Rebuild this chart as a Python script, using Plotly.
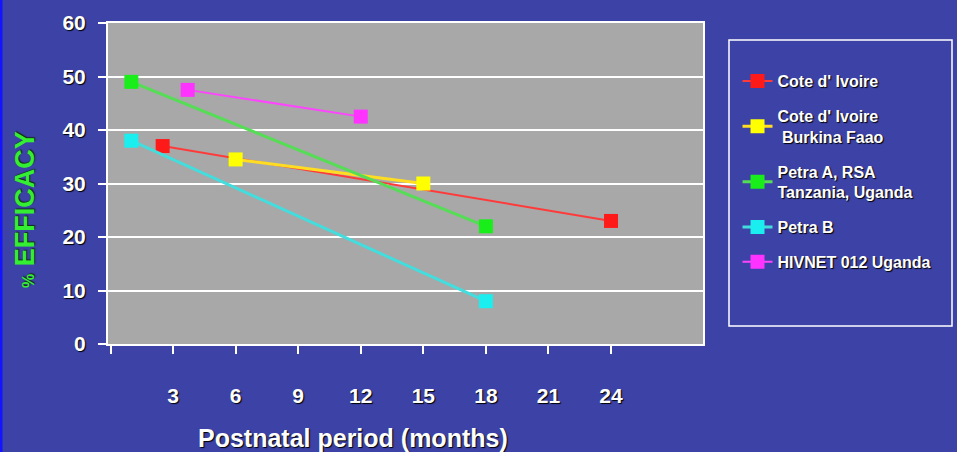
import plotly.graph_objects as go

series_names = ["Cote d' Ivoire", "Cote d' Ivoire<br> Burkina Faao", "Petra A, RSA<br>Tanzania, Uganda", "Petra B", "HIVNET 012 Uganda"]
series_x = [[2.5, 24], [6, 15], [1, 18], [1, 18], [3.7, 12]]
series_y = [[37, 23], [34.5, 30], [49, 22], [38, 8], [47.5, 42.5]]
marker_colors = ["#ff1a1a", "#ffff00", "#1aee1a", "#1aeeee", "#ff33ff"]
line_colors = ["#ff3a3a", "#ffdd22", "#55dd55", "#44dddd", "#ff44ff"]
line_widths = [2, 3, 3, 3, 2]

x_tickvals = [0, 3, 6, 9, 12, 15, 18, 21, 24]
x_ticktext = ["", "3", "6", "9", "12", "15", "18", "21", "24"]
y_tickvals = [0, 10, 20, 30, 40, 50, 60]

BG = "#3c42a6"
PLOT_BG = "#a8a8a8"
SHADOW = "1px 1px 1px #000000"

fig = go.Figure()
for i, name in enumerate(series_names):
    fig.add_trace(go.Scatter(
        x=series_x[i], y=series_y[i], name=name, mode="lines+markers",
        legendgroup=f"g{i}",
        line=dict(color=line_colors[i], width=line_widths[i]),
        marker=dict(symbol="square", size=14, color=marker_colors[i],
                    line=dict(width=0)),
    ))

fig.update_layout(
    width=957, height=452,
    paper_bgcolor=BG, plot_bgcolor=PLOT_BG,
    margin=dict(l=108, r=254, t=23, b=108),
    font=dict(family="Liberation Sans, Arial, sans-serif", color="white"),
    showlegend=True,
    legend=dict(
        x=1.058, y=0.872, xanchor="left", yanchor="top",
        bgcolor="rgba(0,0,0,0)", borderwidth=0,
        font=dict(size=16, color="white", weight="bold", shadow=SHADOW),
        tracegroupgap=11, itemwidth=30,
    ),
    xaxis=dict(
        range=[-0.12, 28.41], tickvals=x_tickvals, ticktext=x_ticktext,
        showgrid=False, zeroline=False,
        showline=True, linecolor="white", linewidth=2, mirror=True,
        ticks="outside", ticklen=8, tickcolor="white", tickwidth=2,
        ticklabelstandoff=24,
        tickfont=dict(size=21, color="white", weight="bold", shadow=SHADOW),
    ),
    yaxis=dict(
        range=[0, 60], tickvals=y_tickvals,
        showgrid=True, gridcolor="white", gridwidth=2, zeroline=False,
        showline=True, linecolor="white", linewidth=2, mirror=True,
        ticks="outside", ticklen=8, tickcolor="white", tickwidth=2,
        ticklabelstandoff=8,
        tickfont=dict(size=21, color="white", weight="bold", shadow=SHADOW),
    ),
    annotations=[
        dict(text="Postnatal period (months)", xref="paper", yref="paper",
             x=(353 - 108) / 595, y=(344 - 438) / 321, xanchor="center", yanchor="middle",
             showarrow=False,
             font=dict(size=25, color="white", weight="bold", shadow=SHADOW)),
        dict(text="<span style='font-size:16px'>%</span> EFFICACY", xref="paper", yref="paper",
             x=(25 - 108) / 595, y=(344 - 210) / 321, xanchor="center", yanchor="middle",
             textangle=-90, showarrow=False,
             font=dict(size=27, color="#33ee33", weight="bold", shadow="1px 1px 1px #103010")),
    ],
    shapes=[
        dict(type="rect", xref="paper", yref="paper",
             x0=(729 - 108) / 595, x1=(952 - 108) / 595,
             y0=(344 - 326) / 321, y1=(344 - 40) / 321,
             line=dict(color="white", width=1.5), fillcolor="rgba(0,0,0,0)"),
        dict(type="rect", xref="paper", yref="paper",
             x0=(0 - 108) / 595, x1=(2.5 - 108) / 595,
             y0=(344 - 452) / 321, y1=(344 - 0) / 321,
             line=dict(width=0), fillcolor="#1414ff"),
    ],
)

fig.write_html("out.html", config={"displayModeBar": False},
               post_script="document.body.style.margin='0';document.body.style.padding='0';")
